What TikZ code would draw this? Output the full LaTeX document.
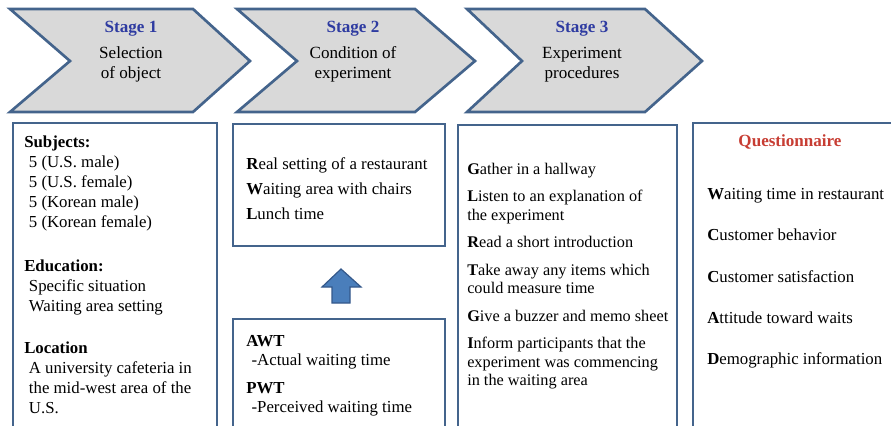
\documentclass[tikz,border=0pt]{standalone}
\usepackage{fontspec}
\setmainfont{Liberation Serif}

\begin{document}
\begin{tikzpicture}[x=0.75pt,y=0.75pt,yscale=-1,xscale=1,
	chevron/.style={draw={rgb, 255:red, 68; green, 100; blue, 140 },fill={rgb, 255:red, 217; green, 217; blue, 217 },line width=2pt,line join=miter},
	infobox/.style={draw={rgb, 255:red, 68; green, 100; blue, 140 },line width=1.4pt},
	stagetxt/.style={inner sep=0.75pt,align=center,font=\fontsize{12.8}{15.5}\selectfont},
	boxtxt/.style={anchor=north west,inner sep=0pt,align=left}]
	\clip (0,0) rectangle (891,425);
	\useasboundingbox (0,0) rectangle (891,425);
	% stages
	\draw [chevron] (10,9) -- (193,9) -- (250,61) -- (193,112) -- (10,112) -- (70,61) -- cycle ;
	\draw [chevron] (237,9) -- (415,9) -- (475,61) -- (415,112) -- (237,112) -- (297,61) -- cycle ;
	\draw [chevron] (467,9) -- (645,9) -- (702,61) -- (645,112) -- (467,112) -- (522,61) -- cycle ;
	\draw (131,52) node [stagetxt] (s1) {\textcolor[rgb]{0.18,0.23,0.63}{\textbf{Stage 1}}\\[3.5pt]Selection\\of object};
	\draw (353,52) node [stagetxt] (s2) {\textcolor[rgb]{0.18,0.23,0.63}{\textbf{Stage 2}}\\[3.5pt]Condition of\\experiment};
	\draw (582,52) node [stagetxt] (s3) {\textcolor[rgb]{0.18,0.23,0.63}{\textbf{Stage 3}}\\[3.5pt]Experiment\\procedures};
	% boxes
	\draw [infobox] (13,123) rectangle (217,432) ;
	\draw [infobox] (233,124) rectangle (445,246) ;
	\draw [infobox] (233,319) rectangle (445,432) ;
	\draw [infobox] (458,125) rectangle (677,432) ;
	\draw [infobox] (693,123) rectangle (900,432) ;
	% up arrow
	\draw [draw={rgb, 255:red, 52; green, 88; blue, 138 },fill={rgb, 255:red, 74; green, 126; blue, 187 },line width=0.9pt] (341,269) -- (361,287) -- (350,287) -- (350,303) -- (332,303) -- (332,287) -- (322,287) -- cycle ;
	% texts
	\draw (24,136) node [boxtxt,font=\fontsize{12.6}{15}\selectfont] (subj) {\textbf{Subjects:}\\
		\hspace*{3.5pt}5 (U.S. male)\\
		\hspace*{3.5pt}5 (U.S. female)\\
		\hspace*{3.5pt}5 (Korean male)\\
		\hspace*{3.5pt}5 (Korean female)\\[18pt]
		\textbf{Education:}\\
		\hspace*{3.5pt}Specific situation\\
		\hspace*{3.5pt}Waiting area setting\\[16.5pt]
		\textbf{Location}\\
		\hspace*{3.5pt}A university cafeteria in\\
		\hspace*{3.5pt}the mid-west area of the\\
		\hspace*{3.5pt}U.S.};
	\draw (246,157) node [boxtxt,font=\fontsize{12.6}{18.75}\selectfont] (cond) {\textbf{R}eal setting of a restaurant\\
		\textbf{W}aiting area with chairs\\
		\textbf{L}unch time};
	\draw (246,335) node [boxtxt,font=\fontsize{12.6}{14}\selectfont] (wait) {\textbf{AWT}\\
		\hspace*{4pt}-Actual waiting time\\[7.5pt]
		\textbf{PWT}\\
		\hspace*{4pt}-Perceived waiting time};
	\draw (467,163) node [boxtxt,font=\fontsize{12.2}{14}\selectfont] (proc) {\textbf{G}ather in a hallway\\[6.5pt]
		\textbf{L}isten to an explanation of\\
		the experiment\\[6.5pt]
		\textbf{R}ead a short introduction\\[6.5pt]
		\textbf{T}ake away any items which\\
		could measure time\\[6.5pt]
		\textbf{G}ive a buzzer and memo sheet\\[6.5pt]
		\textbf{I}nform participants that the\\
		experiment was commencing\\
		in the waiting area};
	\draw (790,142) node [inner sep=0.75pt,font=\fontsize{12.8}{15}\selectfont] (quest) {\textcolor[rgb]{0.78,0.24,0.2}{\textbf{Questionnaire}}};
	\draw (707,188) node [boxtxt,font=\fontsize{12.6}{31}\selectfont] (qitems) {\textbf{W}aiting time in restaurant\\
		\textbf{C}ustomer behavior\\
		\textbf{C}ustomer satisfaction\\
		\textbf{A}ttitude toward waits\\
		\textbf{D}emographic information};
\end{tikzpicture}
\end{document}
